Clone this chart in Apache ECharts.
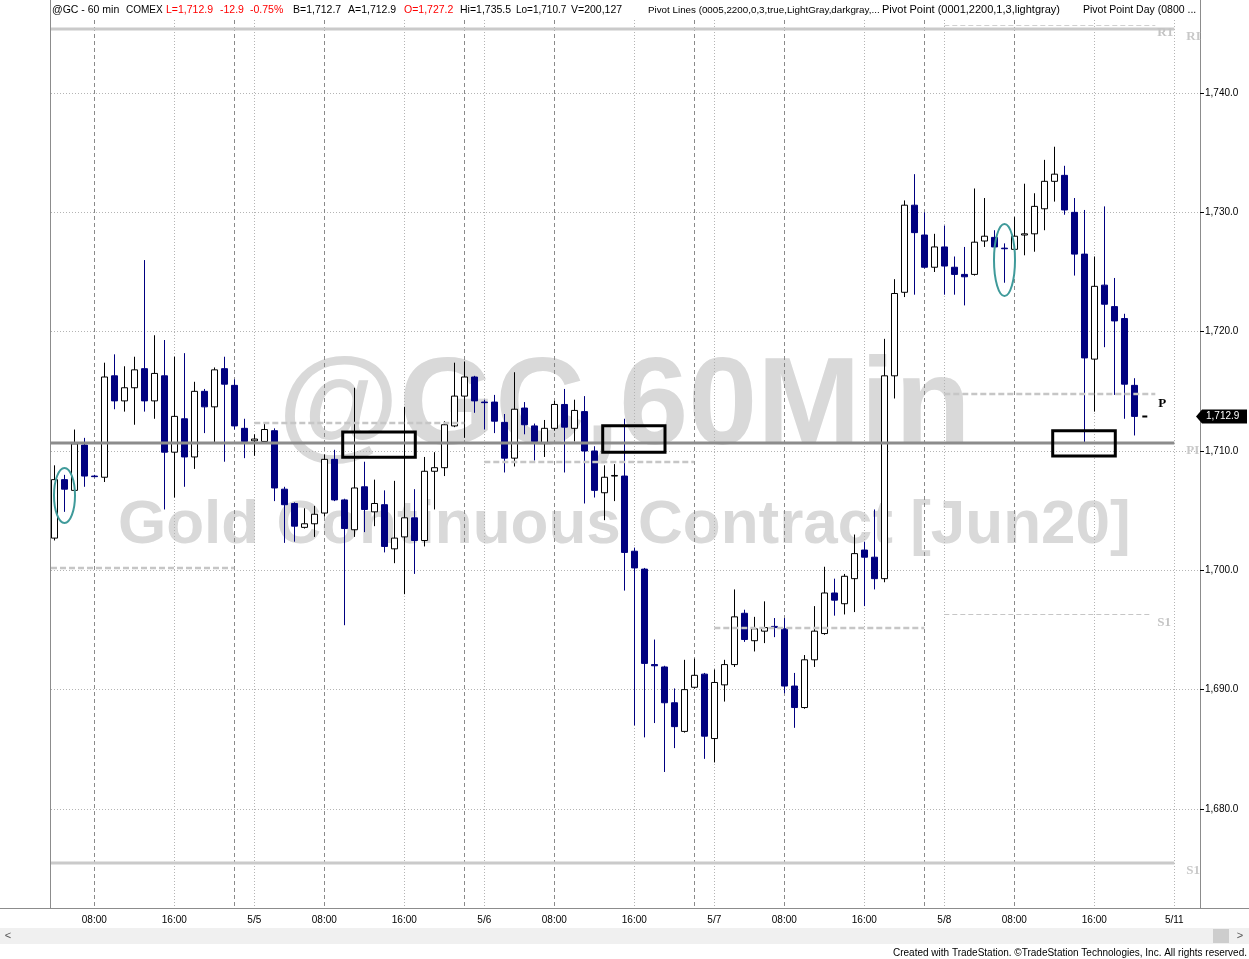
<!DOCTYPE html>
<html><head><meta charset="utf-8">
<script src="https://cdn.jsdelivr.net/npm/echarts@6/dist/echarts.min.js"></script>
<style>html,body{margin:0;padding:0;background:#fff}#c{width:1249px;height:959px}</style>
</head><body><div id="c"></div>
<script>
// ---- data ----
const openP = [1702.7,1707.6,1706.7,1710.5,1707.9,1707.8,1716.3,1714.2,1715.3,1716.9,1714.2,1716.3,1709.9,1712.7,1709.5,1715.0,1713.7,1716.9,1715.5,1711.9,
1710.85,1710.8,1711.7,1706.8,1705.6,1703.6,1703.9,1704.8,1709.3,1705.9,1703.4,1707.0,1704.9,1705.5,1701.8,1702.8,1704.4,1702.5,1708.3,1708.6,
1712.1,1714.6,1716.2,1714.1,1714.1,1712.4,1709.4,1713.6,1712.1,1710.7,1711.9,1713.9,1711.9,1713.3,1710.0,1706.5,1707.9,1707.9,1701.6,1700.1,
1692.1,1691.9,1688.9,1686.5,1690.2,1691.3,1685.9,1690.4,1692.1,1696.4,1694.1,1694.9,1695.3,1695.1,1690.3,1688.5,1692.5,1694.7,1698.1,1697.2,
1699.3,1701.7,1701.1,1699.3,1716.3,1723.3,1730.6,1728.1,1725.4,1727.1,1725.4,1724.8,1724.8,1727.6,1727.9,1727.0,1726.9,1728.1,1728.2,1730.3,
1732.6,1733.1,1730.0,1726.5,1717.7,1723.9,1722.1,1721.1,1715.5];
const closeP = [1707.6,1706.8,1710.6,1707.9,1707.85,1716.2,1714.2,1715.3,1716.8,1714.2,1716.5,1709.9,1712.9,1709.5,1715.0,1713.7,1716.8,1715.6,1712.1,1710.8,
1711.0,1711.8,1706.9,1705.5,1703.7,1703.9,1704.7,1709.3,1705.9,1703.5,1706.9,1705.1,1705.6,1702.0,1702.7,1704.4,1702.5,1708.3,1708.6,1712.2,
1714.6,1716.2,1714.2,1714.05,1712.5,1709.4,1713.5,1712.2,1710.8,1711.9,1713.9,1712.0,1713.4,1710.0,1706.7,1707.8,1707.95,1701.5,1700.2,1692.2,
1692.0,1688.9,1686.9,1690.0,1691.2,1686.1,1690.6,1692.1,1696.1,1694.2,1695.1,1695.2,1695.2,1690.3,1688.5,1692.5,1694.9,1698.1,1697.5,1699.5,
1701.4,1701.1,1699.3,1716.3,1723.2,1730.6,1728.3,1725.4,1727.1,1725.5,1724.8,1724.6,1727.5,1728.0,1727.1,1726.95,1728.0,1728.2,1730.5,1732.6,
1733.2,1730.2,1726.5,1717.8,1723.8,1722.3,1720.9,1715.6,1712.9];
const lowP = [1702.5,1704.9,1706.7,1707.0,1707.8,1707.4,1713.5,1713.3,1712.2,1713.3,1712.7,1705.1,1706.1,1707.0,1708.5,1711.5,1710.7,1709.1,1711.8,1709.4,
1709.6,1710.7,1705.8,1702.3,1702.4,1703.5,1702.8,1704.5,1705.8,1695.4,1702.8,1703.2,1703.7,1701.5,1700.6,1698.0,1699.7,1702.0,1705.1,1707.9,
1712.0,1711.1,1713.2,1711.8,1711.5,1708.2,1708.7,1711.4,1709.2,1709.5,1711.7,1708.2,1710.8,1705.6,1706.1,1704.2,1705.8,1698.3,1687.0,1686.0,
1687.2,1683.1,1685.1,1686.4,1690.1,1684.2,1683.9,1689.0,1691.9,1694.0,1693.2,1693.9,1694.4,1689.7,1686.8,1688.4,1691.9,1694.6,1696.2,1696.3,
1696.5,1697.0,1698.4,1699.0,1714.4,1722.9,1723.1,1725.3,1725.0,1723.1,1723.1,1722.2,1724.7,1727.1,1727.0,1724.1,1726.8,1726.4,1726.7,1728.5,
1730.9,1729.8,1724.7,1710.7,1713.3,1718.7,1714.7,1712.7,1711.3];
const highP = [1708.8,1708.0,1711.8,1711.1,1708.0,1717.4,1718.1,1717.1,1717.9,1726.0,1719.7,1719.3,1717.9,1718.2,1715.8,1715.2,1717.0,1717.9,1716.0,1712.7,
1711.4,1712.4,1711.9,1707.0,1705.7,1705.2,1705.4,1709.7,1710.1,1706.0,1715.3,1709.1,1707.6,1706.7,1707.5,1713.7,1706.8,1709.5,1709.9,1712.5,
1717.4,1717.5,1716.3,1714.3,1714.7,1713.1,1716.6,1714.1,1712.3,1712.6,1714.2,1715.2,1714.3,1714.6,1710.4,1708.8,1708.9,1712.7,1701.9,1700.2,
1694.2,1692.0,1690.1,1692.5,1692.6,1691.4,1691.7,1692.5,1698.4,1696.7,1696.1,1697.4,1696.0,1696.0,1691.4,1692.9,1697.0,1700.3,1699.3,1699.7,
1703.0,1702.4,1705.1,1719.4,1724.4,1731.0,1733.2,1730.0,1728.2,1728.9,1726.3,1727.1,1732.0,1731.2,1728.5,1727.4,1729.6,1732.4,1731.6,1734.4,
1735.5,1733.9,1731.2,1730.2,1726.3,1730.5,1724.5,1721.5,1716.1];

const tickIndex  = [4,12,20,27,35,43,50,58,66,73,81,89,96,104,112];
const tickLabels = ['08:00','16:00','5/5','08:00','16:00','5/6','08:00','16:00','5/7','08:00','16:00','5/8','08:00','16:00','5/11'];
const darkLineIdx  = [4,18,27,41,50,64,73,87,96];
const lightLineIdx = [12,20,35,43,58,66,81,89,104,112];

const weeklyNames  = ['RI','PI','S1'];
const weeklyLevels = [1745.35, 1710.7, 1675.45];
const weeklyEnd = 112;

const dailyPivot = [1700.2, 1712.35, 1709.05, 1695.2, 1714.75];
const dailyStart = [-0.33, 20, 43, 66, 89];
const dailyEnd   = [18, 41, 64, 87, 110.1];
const lastDayS1 = 1696.35;
const lastDayR1 = 1745.7;

const rectStart = [28.84, 54.84, 99.84];
const rectEnd   = [36.1, 61.07, 106.1];
const rectHigh  = [1711.59, 1712.12, 1711.7];
const rectLow   = [1709.47, 1709.89, 1709.58];

const ovalStart = [-0.03, 93.97];
const ovalEnd   = [2.07, 96.07];
const ovalHigh  = [1708.58, 1729.02];
const ovalLow   = [1703.97, 1722.99];

const lastPrice = 1712.9;
const lastPriceIdx = 109;

// ---- chart ----
const fmt = v => { const s = v.toFixed(1); const p = s.split('.'); return p[0].replace(/\B(?=(\d{3})+(?!\d))/g, ',') + '.' + p[1]; };
const candleData = openP.map((o, i) => [i, o, closeP[i], lowP[i], highP[i]]);

const chart = echarts.init(document.getElementById('c'), null, {renderer: 'canvas'});

function vgrid(params, api) {
  const cs = params.coordSys;
  const ch = [];
  darkLineIdx.forEach(i => {
    const x = Math.round(api.coord([i, 1700])[0]) + 0.5;
    ch.push({type: 'line', shape: {x1: x, y1: cs.y, x2: x, y2: cs.y + cs.height}, style: {stroke: '#8a8a8a', lineWidth: 1, lineDash: [4, 3]}});
  });
  lightLineIdx.forEach(i => {
    const x = Math.round(api.coord([i, 1700])[0]) + 0.5;
    ch.push({type: 'line', shape: {x1: x, y1: cs.y, x2: x, y2: cs.y + cs.height}, style: {stroke: '#b4b4b4', lineWidth: 1, lineDash: [1, 2]}});
  });
  return {type: 'group', children: ch, silent: true};
}

function annot(params, api) {
  const cs = params.coordSys;
  const ch = [];
  const P = (i, v) => api.coord([i, v]);
  const serif = 'bold 13px "Liberation Serif", "DejaVu Serif", serif';
  weeklyLevels.forEach((lv, k) => {
    const y = Math.round(P(0, lv)[1]);
    const xe = P(weeklyEnd, lv)[0];
    ch.push({type: 'line', shape: {x1: cs.x, y1: y, x2: xe, y2: y},
      style: {stroke: k === 1 ? '#8c8c8c' : '#cacaca', lineWidth: 3}});
    ch.push({type: 'text', style: {text: weeklyNames[k], x: xe + 12, y: y + 8, fill: '#c8c8c8', font: serif, align: 'left', verticalAlign: 'middle'}});
  });
  dailyPivot.forEach((lv, k) => {
    const a = P(dailyStart[k], lv), b = P(dailyEnd[k], lv);
    ch.push({type: 'line', shape: {x1: Math.max(a[0], cs.x), y1: Math.round(a[1]), x2: b[0], y2: Math.round(b[1])},
      style: {stroke: '#c6c6c6', lineWidth: 2.5, lineDash: [6, 3]}});
  });
  const n = dailyPivot.length - 1;
  const pEnd = P(dailyEnd[n], dailyPivot[n]);
  ch.push({type: 'text', style: {text: 'P', x: pEnd[0] + 3, y: pEnd[1] + 9, fill: '#000', font: serif, align: 'left', verticalAlign: 'middle'}});
  const s1a = P(dailyStart[n], lastDayS1), s1b = P(dailyEnd[n] - 0.3, lastDayS1);
  ch.push({type: 'line', shape: {x1: s1a[0], y1: Math.round(s1a[1]) + 0.5, x2: s1b[0], y2: Math.round(s1b[1]) + 0.5},
    style: {stroke: '#c6c6c6', lineWidth: 1, lineDash: [5, 3]}});
  ch.push({type: 'text', style: {text: 'S1', x: s1b[0] + 5, y: s1b[1] + 9, fill: '#c4c4c4', font: serif, align: 'left', verticalAlign: 'middle'}});
  const r1a = P(dailyStart[n], lastDayR1), r1b = P(dailyEnd[n], lastDayR1);
  ch.push({type: 'line', shape: {x1: r1a[0], y1: Math.round(r1a[1]) + 0.5, x2: r1b[0], y2: Math.round(r1b[1]) + 0.5},
    style: {stroke: '#d0d0d0', lineWidth: 1, lineDash: [5, 3]}});
  ch.push({type: 'text', style: {text: 'R1', x: r1b[0] + 2, y: r1b[1] + 8, fill: '#c4c4c4', font: serif, align: 'left', verticalAlign: 'middle'}});
  rectStart.forEach((s, k) => {
    const a = P(s, rectHigh[k]), b = P(rectEnd[k], rectLow[k]);
    ch.push({type: 'rect', shape: {x: a[0], y: a[1], width: b[0] - a[0], height: b[1] - a[1]},
      style: {fill: 'none', stroke: '#000', lineWidth: 3}});
  });
  ovalStart.forEach((s, k) => {
    const a = P(s, ovalHigh[k]), b = P(ovalEnd[k], ovalLow[k]);
    ch.push({type: 'ellipse', shape: {cx: (a[0] + b[0]) / 2, cy: (a[1] + b[1]) / 2, rx: (b[0] - a[0]) / 2, ry: (b[1] - a[1]) / 2},
      style: {fill: 'none', stroke: '#3f9a9a', lineWidth: 2}});
  });
  const lp = P(lastPriceIdx, lastPrice);
  const ly = Math.round(lp[1]) + 0.5;
  ch.push({type: 'line', shape: {x1: lp[0] - 2, y1: ly, x2: lp[0] + 3, y2: ly}, style: {stroke: '#000', lineWidth: 2}});
  const rx = cs.x + cs.width;
  ch.push({type: 'polygon', shape: {points: [[rx - 4, ly], [rx + 2, ly - 7], [rx + 47, ly - 7], [rx + 47, ly + 7], [rx + 2, ly + 7]]},
    style: {fill: '#000'}});
  ch.push({type: 'text', style: {text: fmt(lastPrice), x: rx + 6, y: ly, fill: '#fff', font: '10px "Liberation Sans", Arial, sans-serif', align: 'left', verticalAlign: 'middle'}});
  return {type: 'group', children: ch, silent: true};
}

const headerSeg = [
  [52, '@GC - 60 min', '#000', 10.5], [126, 'COMEX', '#000', 10], [166, 'L=1,712.9', '#f00', 10.5], [220, '-12.9', '#f00', 10.5], [250, '-0.75%', '#f00', 10.5],
  [293, 'B=1,712.7', '#000', 10.5], [348, 'A=1,712.9', '#000', 10.5], [404, 'O=1,727.2', '#f00', 10.5], [460, 'Hi=1,735.5', '#000', 10.5], [516, 'Lo=1,710.7', '#000', 10],
  [571, 'V=200,127', '#000', 10.5], [648, 'Pivot Lines (0005,2200,0,3,true,LightGray,darkgray,...', '#000', 9.8],
  [882, 'Pivot Point (0001,2200,1,3,lightgray)', '#000', 11], [1083, 'Pivot Point Day (0800 ...', '#000', 10.5]
];
const graphics = [
  {type: 'text', z: -5, silent: true, style: {text: '@GC,60Min', x: 278, y: 410, font: 'bold 124px "Liberation Sans", Arial, sans-serif', fill: '#d9d9d9', align: 'left', verticalAlign: 'middle'}},
  {type: 'text', z: -5, silent: true, style: {text: 'Gold Continuous Contract [Jun20]', x: 118, y: 526, font: 'bold 62px "Liberation Sans", Arial, sans-serif', fill: '#d9d9d9', align: 'left', verticalAlign: 'middle'}},
  {type: 'line', silent: true, shape: {x1: 50.5, y1: 0, x2: 50.5, y2: 908}, style: {stroke: '#8c8c8c', lineWidth: 1}},
  {type: 'line', silent: true, shape: {x1: 1200.5, y1: 0, x2: 1200.5, y2: 20}, style: {stroke: '#8c8c8c', lineWidth: 1}},
  {type: 'line', silent: true, shape: {x1: 0, y1: 908.5, x2: 1249, y2: 908.5}, style: {stroke: '#8c8c8c', lineWidth: 1}},
  {type: 'rect', silent: true, shape: {x: 0, y: 928, width: 1249, height: 16}, style: {fill: '#f0f0f0'}},
  {type: 'rect', silent: true, shape: {x: 1213, y: 929, width: 16, height: 14}, style: {fill: '#cdcdcd'}},
  {type: 'text', silent: true, style: {text: '<', x: 8, y: 936, font: '11px "Liberation Sans", Arial', fill: '#555', align: 'center', verticalAlign: 'middle'}},
  {type: 'text', silent: true, style: {text: '>', x: 1240, y: 936, font: '11px "Liberation Sans", Arial', fill: '#555', align: 'center', verticalAlign: 'middle'}},
  {type: 'text', silent: true, style: {text: 'Created with TradeStation. \u00A9TradeStation Technologies, Inc. All rights reserved.', x: 1247, y: 953, font: '10px "Liberation Sans Narrow", "Liberation Sans", Arial', fill: '#000', align: 'right', verticalAlign: 'middle'}}
].concat(headerSeg.map(s => ({type: 'text', silent: true, style: {text: s[1], x: s[0], y: 10, font: s[3] + 'px "Liberation Sans", Arial, sans-serif', fill: s[2], align: 'left', verticalAlign: 'middle'}})));

chart.setOption({
  animation: false,
  backgroundColor: '#fff',
  grid: {left: 51, right: 49, top: 20, bottom: 51},
  xAxis: {
    type: 'value', min: -0.33, max: 114.57,
    axisLine: {show: true, onZero: false, lineStyle: {color: '#8c8c8c'}},
    axisTick: {show: false},
    splitLine: {show: false},
    axisLabel: {customValues: tickIndex, formatter: v => { const k = tickIndex.indexOf(v); return k >= 0 ? tickLabels[k] : ''; },
      fontSize: 10, fontFamily: '"Liberation Sans", Arial, sans-serif', color: '#000', margin: 7}
  },
  yAxis: {
    type: 'value', position: 'right', min: 1671.70, max: 1746.12, splitNumber: 8, scale: true,
    axisLine: {show: true, onZero: false, lineStyle: {color: '#8c8c8c'}},
    axisTick: {show: true, length: 4, lineStyle: {color: '#000'}},
    axisLabel: {showMinLabel: false, showMaxLabel: false, formatter: v => fmt(v), fontSize: 10, fontFamily: '"Liberation Sans", Arial, sans-serif', color: '#000', margin: 5},
    splitLine: {show: true, showMinLine: false, showMaxLine: false, lineStyle: {color: '#b4b4b4', type: [1, 2]}}
  },
  graphic: graphics,
  series: [
    {type: 'custom', name: 'grid', z: 1, silent: true, data: [[0, 1700]], renderItem: vgrid},
    {type: 'candlestick', name: '@GC', z: 2, data: candleData, encode: {x: 0, y: [1, 2, 3, 4]}, barWidth: 7,
      itemStyle: {color: '#ffffff', color0: '#000080', borderColor: '#000000', borderColor0: '#000080', borderWidth: 1}},
    {type: 'custom', name: 'annot', z: 3, silent: true, data: [[0, 1700]], renderItem: annot}
  ]
});
</script>
</body></html>
